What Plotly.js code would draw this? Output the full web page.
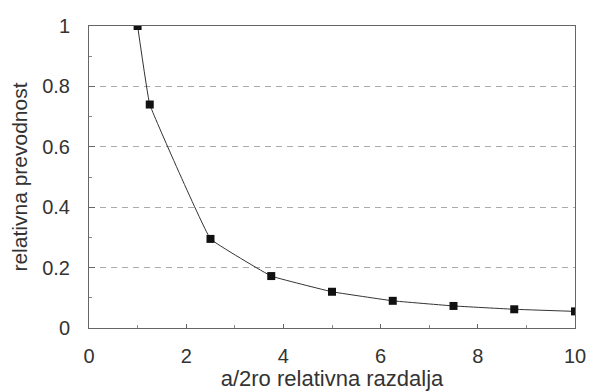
<!DOCTYPE html>
<html><head><meta charset="utf-8">
<script src="https://cdn.plot.ly/plotly-3.0.1.min.js"></script>
<style>html,body{margin:0;padding:0;background:#fff;}#chart{width:589px;height:391px;}</style>
</head><body><div id="chart"></div>
<script>
const distance = [1, 1.25, 2.5, 3.75, 5, 6.25, 7.5, 8.75, 10];
const conductance = [1, 0.74, 0.295, 0.172, 0.12, 0.09, 0.073, 0.062, 0.055];
const xTickVals = [0, 2, 4, 6, 8, 10];
const yTickVals = [0, 0.2, 0.4, 0.6, 0.8, 1];
const yTickText = ['0', '0.2', '0.4', '0.6', '0.8', '1'];

const trace = {
  x: distance, y: conductance, mode: 'lines+markers', type: 'scatter',
  line: {color: '#333', width: 1, shape: 'spline', smoothing: 0.2},
  marker: {symbol: 'square', size: 8, color: '#111'},
  showlegend: false, hoverinfo: 'skip'
};
const layout = {
  width: 589, height: 391,
  margin: {l: 89, r: 14, t: 26, b: 63},
  paper_bgcolor: '#fff', plot_bgcolor: '#fff',
  font: {family: 'Liberation Sans, Arial, sans-serif', size: 20, color: '#333'},
  xaxis: {
    range: [0, 10], tickvals: xTickVals, ticktext: xTickVals.map(String),
    showgrid: false, zeroline: false, showline: true, linecolor: '#666', linewidth: 1,
    mirror: true, ticks: 'inside', ticklen: 4, tickcolor: '#666', ticklabelstandoff: 10,
    minor: {dtick: 1, ticks: 'inside', ticklen: 3, tickcolor: '#888', showgrid: false},
    title: {text: 'a/2ro relativna razdalja', font: {size: 22, color: '#333'}, standoff: 0}
  },
  yaxis: {
    range: [0, 1], tickvals: yTickVals, ticktext: yTickText,
    showgrid: true, gridcolor: '#aaa', griddash: '6px,5px', gridwidth: 1,
    zeroline: false, showline: true, linecolor: '#666', linewidth: 1,
    mirror: true, ticks: 'inside', ticklen: 6, tickcolor: '#666', ticklabelstandoff: 14,
    minor: {dtick: 0.1, ticks: 'inside', ticklen: 3, tickcolor: '#888', showgrid: false},
    title: {text: 'relativna prevodnost', font: {size: 21, color: '#333'}, standoff: 8}
  }
};
Plotly.newPlot('chart', [trace], layout, {staticPlot: true, displayModeBar: false});
</script></body></html>
